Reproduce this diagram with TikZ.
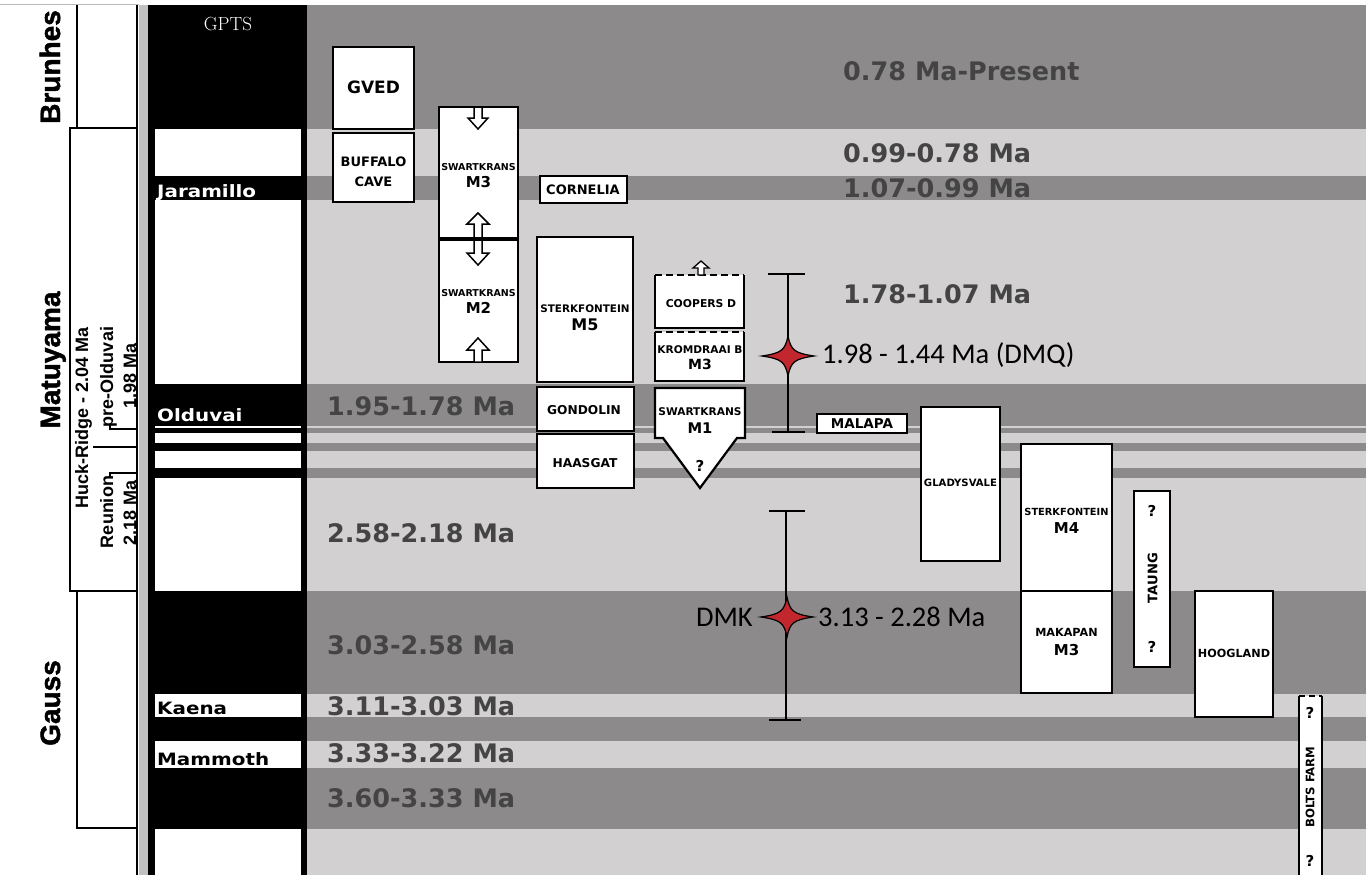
\documentclass[tikz,border=0pt]{standalone}
\usepackage{fontspec}
\newfontfamily\djfont{DejaVu Sans}
\newfontfamily\wdfont{DejaVu Sans}[FakeStretch=1.17]
\newfontfamily\lsfont{Liberation Sans}
\newfontfamily\erafont{Liberation Sans}[FakeBold=1.6]
\newfontfamily\calfont{Carlito}
\newcommand\fsz[2]{\fontsize{#1}{#2}\selectfont}
\definecolor{dkband}{HTML}{8C8A8B}
\definecolor{ltband}{HTML}{D2D0D1}
\definecolor{stripgray}{HTML}{C2C0C1}
\definecolor{lbl}{HTML}{444444}
\definecolor{starred}{HTML}{C1272D}
\begin{document}
\begin{tikzpicture}[x=1pt,y=-1pt,
  box/.style={draw=black,line width=2.2pt,fill=white,inner sep=0pt,outer sep=0pt},
  boxnd/.style={fill=white,inner sep=0pt,outer sep=0pt},
  bl/.style={font=\djfont\bfseries,inner sep=0pt,align=center},
  band/.style={font=\djfont\bfseries\fsz{25.5}{30},text=lbl,anchor=west,inner sep=0pt},
  gpl/.style={font=\wdfont\bfseries\fsz{17}{20},anchor=base west,inner sep=0pt},
  era/.style={font=\erafont\bfseries\fsz{28}{30},rotate=90,anchor=base,inner sep=0pt},
  ev/.style={font=\lsfont\bfseries\fsz{18}{20},rotate=90,anchor=base,inner sep=0pt},
  arr/.style={fill=white,draw=black,line width=1.5pt,line join=miter},
  err/.style={draw=black,line width=2pt},
  dat/.style={font=\calfont\fsz{28.5}{30},inner sep=0pt},
  thinl/.style={draw=black,line width=1.3pt},
  starpic/.pic={\draw[fill=starred,draw=black,line width=1.2pt]
     (0,-20) .. controls (3,-6) and (6,-3) .. (26,0)
     .. controls (6,3) and (3,6) .. (0,20)
     .. controls (-3,6) and (-6,3) .. (-26,0)
     .. controls (-6,-3) and (-3,-6) .. (0,-20) -- cycle;}
]
\useasboundingbox (0,0) rectangle (1368,875);
% ---------- bands ----------
\fill[dkband] (307,5) rectangle (1366,875);
\foreach \a/\b in {129/176,200/384,426/428,433/443,451/468,478/591,694/717,741/768,829/875}
  \fill[ltband] (307,\a) rectangle (1366,\b);
% ---------- GPTS column ----------
\fill[stripgray] (139,5) rectangle (148,875);
\fill[black] (148,5) rectangle (307,875);
\foreach \a/\b in {129/176,200/384,426/428,433/443,451/468,478/591,694/717,741/768,829/875}
  \fill[white] (155,\a) rectangle (301,\b);
\node[font=\fsz{19}{22},text=white,inner sep=0pt] (gpts) at (228,24.5) {GPTS};
\node[gpl,text=white] (jar) at (157,197) {Jaramillo};
\node[gpl,text=white] (old) at (157,421) {Olduvai};
\node[gpl,text=black] (kae) at (157,714) {Kaena};
\node[gpl,text=black] (mam) at (157,765) {Mammoth};
% ---------- left chron column ----------
\draw[gray!55,line width=1pt] (0,5) -- (139,5);
\draw[thinl] (137,5) -- (137,875);
\draw[thinl] (77,5) -- (77,128);
\draw[thinl] (70,128) rectangle (137,591);
\draw[thinl] (77,591) -- (77,828) -- (137,828);
\draw[thinl] (110,424) -- (110,429) -- (137,429);
\draw[thinl] (93,447) -- (137,447);
\draw[thinl] (110,477) -- (110,473) -- (137,473);
\node[era] (brun) at (60,67) {Brunhes};
\node[era] (matu) at (60,360) {Matuyama};
\node[era] (gaus) at (60,703) {Gauss};
\node[ev] (huck) at (88,418) {Huck-Ridge - 2.04 Ma};
\node[ev] (preo) at (113,377) {pre-Olduvai};
\node[ev] (preoa) at (136,376) {1.98 Ma};
\node[ev] (reun) at (113,512) {Reunion};
\node[ev] (reuna) at (136,513) {2.18 Ma};
% ---------- band labels ----------
\node[band] (b1) at (843,71) {0.78 Ma-Present};
\node[band] (b2) at (843,153) {0.99-0.78 Ma};
\node[band] (b3) at (843,188) {1.07-0.99 Ma};
\node[band] (b4) at (843,294) {1.78-1.07 Ma};
\node[band] (b5) at (327,406) {1.95-1.78 Ma};
\node[band] (b6) at (327,533) {2.58-2.18 Ma};
\node[band] (b7) at (327,645) {3.03-2.58 Ma};
\node[band] (b8) at (327,706) {3.11-3.03 Ma};
\node[band] (b9) at (327,753) {3.33-3.22 Ma};
\node[band] (b10) at (327,798) {3.60-3.33 Ma};
% ---------- site boxes ----------
\node[box,minimum width=81pt,minimum height=82pt] (gved) at (373.5,88) {};
\node[bl,font=\djfont\bfseries\fsz{17}{20}] (gvedt) at (373.5,87.5) {GVED};
\node[box,minimum width=81pt,minimum height=69pt] (buff) at (373.5,167.5) {};
\node[bl,font=\djfont\bfseries\fsz{13}{20}] (bufft) at (373.5,172) {BUFFALO\\CAVE};
\node[box,minimum width=79pt,minimum height=132pt] (swm3) at (478.5,173) {};
\node[box,minimum width=79pt,minimum height=123pt] (swm2) at (478.5,300.5) {};
\node[box,minimum width=87pt,minimum height=27pt] (corn) at (583.5,189.5) {};
\node[bl,font=\djfont\bfseries\fsz{13}{16}] (cornt) at (583,190) {CORNELIA};
\node[box,minimum width=96pt,minimum height=145pt] (stm5) at (585,309.5) {};
\node[box,minimum width=97pt,minimum height=44pt] (gond) at (585.5,409) {};
\node[bl,font=\djfont\bfseries\fsz{12.2}{16}] (gondt) at (584,410.5) {GONDOLIN};
\node[box,minimum width=97pt,minimum height=54pt] (haas) at (585.5,461) {};
\node[bl,font=\djfont\bfseries\fsz{12.2}{16}] (haast) at (585,463) {HAASGAT};
% Coopers D and Kromdraai B (dashed tops)
\node[boxnd,minimum width=89pt,minimum height=53pt] (coop) at (699.5,301.5) {};
\draw[line width=2.2pt] (coop.north west) -- (coop.south west) -- (coop.south east) -- (coop.north east);
\draw[line width=2.2pt,dash pattern=on 7pt off 4pt] (coop.north west) -- (coop.north east);
\node[bl,font=\djfont\bfseries\fsz{10.8}{14}] (coopt) at (701,304) {COOPERS D};
\node[boxnd,minimum width=89pt,minimum height=49pt] (krom) at (699.5,356.5) {};
\draw[line width=2.2pt] (krom.north west) -- (krom.south west) -- (krom.south east) -- (krom.north east);
\draw[line width=2.2pt,dash pattern=on 7pt off 4pt] (krom.north west) -- (krom.north east);
% Swartkrans M1 pentagon
\draw[line width=2.2pt,fill=white,line join=miter] (655,388) -- (745,388) -- (745,438) -- (737,438) -- (700,488) -- (663,438) -- (655,438) -- cycle;
\coordinate (swm1) at (700,420);
\node[box,minimum width=90pt,minimum height=19pt] (mala) at (862,423.5) {};
\node[bl,font=\djfont\bfseries\fsz{13.5}{16}] (malat) at (862,423.5) {MALAPA};
\node[box,minimum width=79pt,minimum height=154pt] (glad) at (960.5,484) {};
\node[bl,font=\djfont\bfseries\fsz{10.1}{14}] (gladt) at (960.5,483) {GLADYSVALE};
\node[box,minimum width=91pt,minimum height=147pt] (stm4) at (1066.5,517.5) {};
\node[box,minimum width=91pt,minimum height=102pt] (maka) at (1066.5,642) {};
\node[box,minimum width=36pt,minimum height=176pt] (taun) at (1152,579) {};
\node[bl,font=\djfont\bfseries\fsz{13.1}{16},rotate=90] (taunt) at (1152.5,578) {TAUNG};
\node[bl,font=\djfont\bfseries\fsz{15}{16}] (taunq1) at (1152,511) {?};
\node[bl,font=\djfont\bfseries\fsz{15}{16}] (taunq2) at (1152,647) {?};
\node[box,minimum width=78pt,minimum height=126pt] (hoog) at (1234,654) {};
\node[bl,font=\djfont\bfseries\fsz{11.2}{14}] (hoogt) at (1234,653.5) {HOOGLAND};
\node[boxnd,minimum width=23pt,minimum height=186pt] (bolt) at (1310.5,789) {};
\draw[line width=2.2pt] (bolt.north west) -- (bolt.south west);
\draw[line width=2.2pt] (bolt.north east) -- (bolt.south east);
\draw[line width=2.2pt,dash pattern=on 6pt off 4pt] (bolt.north west) -- (bolt.north east);
\node[bl,font=\djfont\bfseries\fsz{11.7}{14},rotate=90] (boltt) at (1310,787) {BOLTS FARM};
\node[bl,font=\djfont\bfseries\fsz{15}{16}] (boltq1) at (1310,713) {?};
\node[bl,font=\djfont\bfseries\fsz{15}{16}] (boltq2) at (1310,861) {?};
% ---------- block arrows ----------
\draw[arr] (474,108) -- (474,118) -- (468,118) -- (478,129) -- (488,118) -- (482,118) -- (482,108);
\draw[arr] (478,213) -- (489,224) -- (482,224) -- (482,253) -- (489,253) -- (478,265) -- (467,253) -- (474,253) -- (474,224) -- (467,224) -- cycle;
\draw[line width=4pt] (swm3.south west) -- (swm3.south east);
\draw[arr] (478,338) -- (489,350) -- (482,350) -- (482,362) -- (474,362) -- (474,350) -- (467,350) -- cycle;
\draw[arr,line width=1.3pt] (701,261) -- (709,268) -- (704,268) -- (704,275) -- (698,275) -- (698,268) -- (693,268) -- cycle;
% ---------- two-line box labels ----------
\node[bl,font=\djfont\bfseries\fsz{9.5}{17}] (swm3t) at (478.5,175.5) {SWARTKRANS\\{\fsz{15}{17}M3}};
\node[bl,font=\djfont\bfseries\fsz{9.5}{17}] (swm2t) at (478.5,301) {SWARTKRANS\\{\fsz{15}{17}M2}};
\node[bl,font=\djfont\bfseries\fsz{10.4}{18}] (stm5t) at (585,318) {STERKFONTEIN\\{\fsz{16}{18}M5}};
\node[bl,font=\djfont\bfseries\fsz{10.6}{16}] (kromt) at (700,358) {KROMDRAAI B\\{\fsz{14}{16}M3}};
\node[bl,font=\djfont\bfseries\fsz{10.6}{18}] (swm1t) at (700,421) {SWARTKRANS\\{\fsz{14.7}{18}M1}};
\node[bl,font=\djfont\bfseries\fsz{15}{16}] (swm1q) at (700,466) {?};
\node[bl,font=\djfont\bfseries\fsz{9.8}{18}] (stm4t) at (1066.5,521) {STERKFONTEIN\\{\fsz{15}{18}M4}};
\node[bl,font=\djfont\bfseries\fsz{11.2}{19}] (makat) at (1066.5,642.5) {MAKAPAN\\{\fsz{15}{19}M3}};
% ---------- error bars and stars ----------
\coordinate (dmqtop) at (788,274);
\coordinate (dmqbot) at (788,432);
\coordinate (dmqs) at (788,356);
\draw[err] (dmqtop) -- (dmqbot);
\draw[err] ([xshift=-20pt]dmqtop) -- ([xshift=17pt]dmqtop);
\draw[err] ([xshift=-16pt]dmqbot) -- ([xshift=17pt]dmqbot);
\pic at (dmqs) {starpic};
\node[dat,anchor=base west] (dmqt) at (822,363) {1.98 - 1.44 Ma (DMQ)};
\coordinate (dmktop) at (786,511);
\coordinate (dmkbot) at (786,720);
\coordinate (dmks) at (787,617);
\draw[err] (dmktop) -- (dmkbot);
\draw[err] ([xshift=-17pt]dmktop) -- ([xshift=19pt]dmktop);
\draw[err] ([xshift=-17pt]dmkbot) -- ([xshift=15pt]dmkbot);
\pic at (dmks) {starpic};
\node[dat,anchor=base west] (dmkt) at (818,626) {3.13 - 2.28 Ma};
\node[dat,anchor=base east] (dmkl) at (753,626) {DMK};
\end{tikzpicture}
\end{document}
